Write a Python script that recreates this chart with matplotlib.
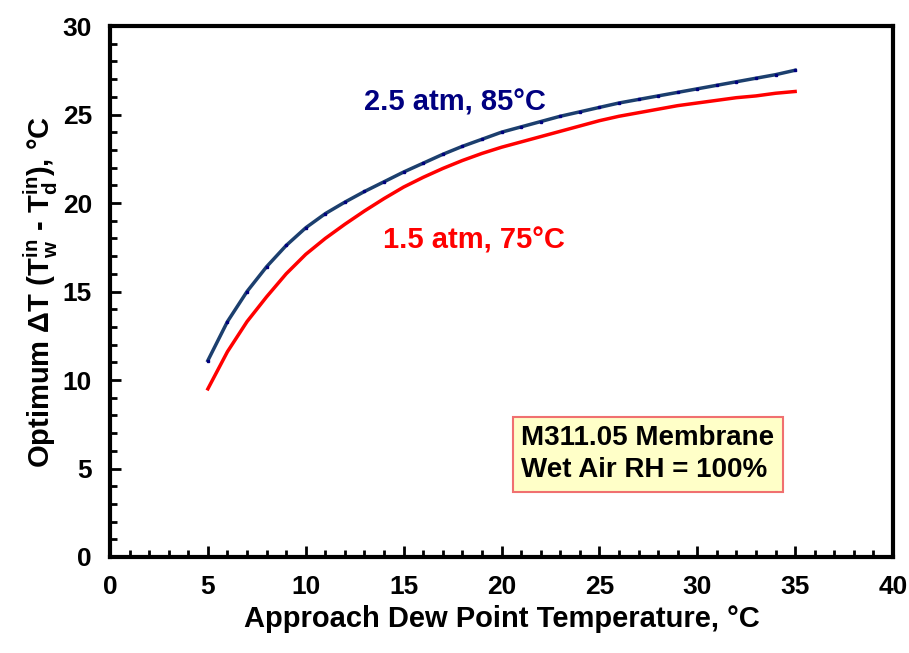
"""Optimum delta T vs approach dew point temperature for M311.05 membrane."""

import matplotlib
matplotlib.use('Agg')
import matplotlib.pyplot as plt
from matplotlib.ticker import MultipleLocator

plt.rcParams['font.family'] = ['Liberation Sans', 'DejaVu Sans']
plt.rcParams['font.weight'] = 'bold'
plt.rcParams['mathtext.fontset'] = 'custom'
plt.rcParams['mathtext.rm'] = 'Liberation Sans:bold'
plt.rcParams['mathtext.it'] = 'Liberation Sans:bold'
plt.rcParams['mathtext.bf'] = 'Liberation Sans:bold'

# approach dew point temperature, C
dew_point = list(range(5, 36))

# 2.5 atm, 85 C
dt_high = [11.1, 13.3, 15.0, 16.4, 17.6, 18.6, 19.4, 20.05, 20.65, 21.2,
           21.75, 22.25, 22.75, 23.2, 23.6, 24.0, 24.3, 24.6, 24.9, 25.15,
           25.4, 25.65, 25.85, 26.05, 26.25, 26.45, 26.65, 26.85, 27.05, 27.25, 27.5]

# 1.5 atm, 75 C
dt_low = [9.5, 11.6, 13.3, 14.7, 16.0, 17.1, 18.0, 18.8, 19.55, 20.25,
          20.9, 21.45, 21.95, 22.4, 22.8, 23.15, 23.45, 23.75, 24.05, 24.35,
          24.65, 24.9, 25.1, 25.3, 25.5, 25.65, 25.8, 25.95, 26.05, 26.2, 26.3]


def main():
    fig = plt.figure(figsize=(9.09, 6.53), dpi=100)
    ax = fig.add_axes([110 / 909, 1 - 557 / 653, 783 / 909, 531 / 653])

    ax.plot(dew_point, dt_low, color='#FF0000', linewidth=2.5)
    ax.plot(dew_point, dt_high, color='#1C3F6E', linewidth=2.5,
            marker='s', markersize=2, markerfacecolor='#000080',
            markeredgecolor='#000080')

    ax.set_xlim(0, 40)
    ax.set_ylim(0, 30)
    ax.xaxis.set_major_locator(MultipleLocator(5))
    ax.xaxis.set_minor_locator(MultipleLocator(1))
    ax.yaxis.set_major_locator(MultipleLocator(5))
    ax.yaxis.set_minor_locator(MultipleLocator(1))
    ax.tick_params(which='both', direction='in', width=2, top=False, right=False,
                   labelsize=19, pad=13)
    ax.tick_params(which='major', length=8)
    ax.tick_params(which='minor', length=5)
    for lbl in ax.get_xticklabels() + ax.get_yticklabels():
        lbl.set_fontweight('bold')
    for sp in ax.spines.values():
        sp.set_linewidth(3)

    ax.set_xlabel('Approach Dew Point Temperature, °C', fontsize=21,
                  fontweight='bold', labelpad=4)
    ax.set_ylabel(r'Optimum $\Delta$T (T$_{w}^{in}$ - T$_{d}^{in}$), °C',
                  fontsize=21, fontweight='bold', labelpad=2)

    ax.text(17.6, 25.7, '2.5 atm, 85°C', color='#000080', fontsize=21,
            fontweight='bold', ha='center', va='center')
    ax.text(18.6, 17.9, '1.5 atm, 75°C', color='#FF0000', fontsize=21,
            fontweight='bold', ha='center', va='center')

    ax.text(21.0, 5.8, 'M311.05 Membrane\nWet Air RH = 100%', fontsize=20,
            fontweight='bold', ha='left', va='center', linespacing=1.3,
            bbox=dict(boxstyle='square,pad=0.3', facecolor='#FFFFC8',
                      edgecolor='#F07070', linewidth=1.5))

    fig.savefig('out.png', dpi=100)


if __name__ == "__main__":
    main()
